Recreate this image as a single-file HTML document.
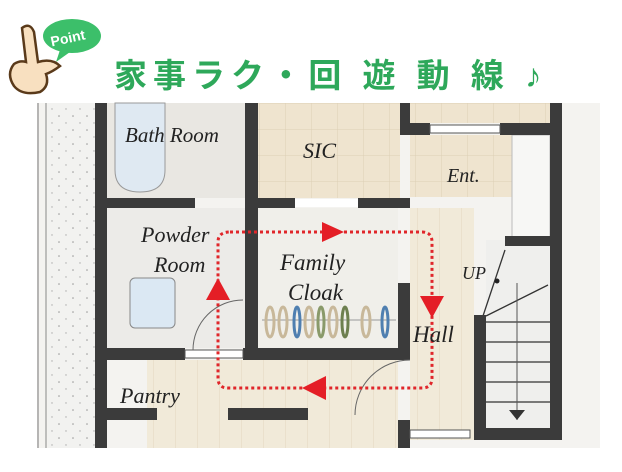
<!DOCTYPE html>
<html><head><meta charset="utf-8"><style>
body{margin:0;width:622px;height:472px;background:#fff;overflow:hidden;position:relative}
svg{position:absolute;left:0;top:0}
.l{font-family:"Liberation Serif",serif;font-style:italic;fill:#222}
</style></head><body>
<svg width="622" height="472" viewBox="0 0 622 472">
<defs>
<pattern id="tile" width="26" height="26" patternUnits="userSpaceOnUse"><rect width="26" height="26" fill="#efe4cf"/><path d="M26 0V26H0" stroke="#dccfb6" stroke-width="1" fill="none"/></pattern>
<pattern id="fl" width="22" height="40" patternUnits="userSpaceOnUse"><rect width="22" height="40" fill="#f1ead9"/><path d="M22 0V40" stroke="#e2d7c0" fill="none"/></pattern>
<pattern id="dots" width="14" height="14" patternUnits="userSpaceOnUse"><rect width="14" height="14" fill="#f2f2f0"/><circle cx="3" cy="4" r=".8" fill="#999"/><circle cx="10" cy="11" r=".7" fill="#aaa"/></pattern>
</defs>
<!-- header -->
<text x="114" y="87" font-family="'Liberation Sans','Noto Sans CJK JP',sans-serif" font-size="33" font-weight="bold" fill="#2ea85a" letter-spacing="6">家事ラク・回 遊 動 線 ♪</text>
<ellipse cx="72" cy="36" rx="29" ry="17" fill="#3cbf6a"/>
<path d="M60 50 L56 62 L70 52Z" fill="#3cbf6a"/>
<text x="50" y="42" font-family="'Liberation Sans',sans-serif" font-size="14" font-weight="bold" fill="#fff" transform="rotate(-12 72 36)">Point</text>
<path d="M22 28 Q30 22 34 32 L38 62 Q52 58 60 66 Q52 72 46 74 Q50 86 40 92 Q22 96 14 86 Q6 74 14 64 Q20 60 26 62 Z" fill="#f8e0c0" stroke="#5a3a1a" stroke-width="2.5"/>
<!-- plan -->
<rect x="37" y="103" width="563" height="345" fill="#f4f3f0"/>
<rect x="48" y="103" width="47" height="345" fill="url(#dots)"/>
<line x1="38" y1="103" x2="38" y2="448" stroke="#777"/><line x1="46" y1="103" x2="46" y2="448" stroke="#888"/>
<rect x="107" y="103" width="138" height="95" fill="#e9e7e2"/>
<path d="M115 103 V170 Q115 192 140 192 Q165 192 165 170 V103Z" fill="#dfe9f2" stroke="#999"/>
<rect x="258" y="103" width="142" height="95" fill="url(#tile)"/>
<rect x="410" y="135" width="102" height="62" fill="url(#tile)"/>
<rect x="410" y="103" width="140" height="20" fill="url(#tile)"/>
<rect x="512" y="135" width="38" height="105" fill="#f7f7f5" stroke="#bbb"/>
<rect x="107" y="208" width="138" height="140" fill="#ecebe8"/>
<rect x="130" y="278" width="45" height="50" rx="5" fill="#dbe8f3" stroke="#888"/>
<rect x="258" y="208" width="140" height="140" fill="#f0efea"/>
<rect x="410" y="208" width="64" height="232" fill="url(#fl)"/>
<rect x="107" y="360" width="291" height="88" fill="url(#fl)"/>
<rect x="107" y="360" width="40" height="88" fill="#f4f3f0"/>
<!-- stairs -->
<rect x="486" y="240" width="64" height="190" fill="#efefed"/>
<g stroke="#333" stroke-width="1.3"><line x1="486" y1="322" x2="550" y2="322"/><line x1="486" y1="342" x2="550" y2="342"/><line x1="486" y1="362" x2="550" y2="362"/><line x1="486" y1="382" x2="550" y2="382"/><line x1="486" y1="402" x2="550" y2="402"/><line x1="486" y1="316" x2="548" y2="285"/><line x1="483" y1="316" x2="505" y2="250"/></g>
<line x1="517" y1="283" x2="517" y2="420" stroke="#555"/>
<path d="M509 410h16l-8 10z" fill="#333"/>
<circle cx="497" cy="281" r="2.5" fill="#222"/>
<!-- hangers -->
<line x1="262" y1="320" x2="396" y2="320" stroke="#999"/>
<g stroke-width="3" fill="none">
<ellipse cx="270" cy="322" rx="4" ry="15" stroke="#c8b89a"/><ellipse cx="283" cy="322" rx="4" ry="15" stroke="#c8b89a"/><ellipse cx="297" cy="322" rx="3" ry="15" stroke="#4f7fb0"/><ellipse cx="309" cy="322" rx="4" ry="15" stroke="#c8b89a"/><ellipse cx="321" cy="322" rx="3" ry="15" stroke="#8a9a6a"/><ellipse cx="333" cy="322" rx="4" ry="15" stroke="#c8b89a"/><ellipse cx="345" cy="322" rx="3" ry="15" stroke="#6d7f4f"/><ellipse cx="366" cy="322" rx="4" ry="15" stroke="#c8b89a"/><ellipse cx="385" cy="322" rx="3" ry="15" stroke="#4f7fb0"/></g>
<!-- walls -->
<g fill="#3b3b3b">
<rect x="95" y="103" width="12" height="345"/>
<rect x="245" y="103" width="13" height="257"/>
<rect x="95" y="198" width="100" height="10"/>
<rect x="245" y="198" width="50" height="10"/>
<rect x="358" y="198" width="52" height="10"/>
<rect x="400" y="103" width="10" height="32"/>
<rect x="400" y="123" width="30" height="12"/><rect x="500" y="123" width="50" height="12"/>
<rect x="550" y="103" width="12" height="337"/>
<rect x="505" y="236" width="45" height="10"/>
<rect x="474" y="315" width="12" height="125"/>
<rect x="474" y="428" width="88" height="12"/>
<rect x="95" y="348" width="90" height="12"/><rect x="243" y="348" width="167" height="12"/>
<rect x="398" y="283" width="12" height="77"/>
<rect x="398" y="420" width="12" height="28"/>
<rect x="107" y="408" width="50" height="12"/><rect x="228" y="408" width="80" height="12"/>
</g>
<rect x="430" y="125" width="70" height="8" fill="#fff" stroke="#555"/>
<rect x="295" y="199" width="63" height="8" fill="#fff"/>
<rect x="410" y="430" width="60" height="8" fill="#fff" stroke="#555"/>
<rect x="185" y="350" width="58" height="8" fill="#fff" stroke="#555"/>
<path d="M410 360 A55 55 0 0 0 355 415" fill="none" stroke="#666"/>
<path d="M243 300 A50 50 0 0 0 193 350" fill="none" stroke="#666"/>
<!-- red loop -->
<path d="M230 232 H422 Q432 232 432 242 V378 Q432 388 422 388 H228 Q218 388 218 378 V242 Q218 232 230 232Z" fill="none" stroke="#e0262a" stroke-width="3" stroke-dasharray="3 3"/>
<path d="M322 222 L344 232 L322 242Z" fill="#e41e26"/>
<path d="M420 296 L444 296 L432 318Z" fill="#e41e26"/>
<path d="M326 376 L302 388 L326 400Z" fill="#e41e26"/>
<path d="M206 300 L230 300 L218 278Z" fill="#e41e26"/>
<!-- labels -->
<text class="l" x="125" y="142" font-size="21">Bath Room</text>
<text class="l" x="303" y="158" font-size="22">SIC</text>
<text class="l" x="447" y="182" font-size="20">Ent.</text>
<text class="l" x="141" y="242" font-size="22">Powder</text>
<text class="l" x="154" y="272" font-size="22">Room</text>
<text class="l" x="280" y="270" font-size="23">Family</text>
<text class="l" x="288" y="300" font-size="23">Cloak</text>
<text class="l" x="413" y="342" font-size="23">Hall</text>
<text class="l" x="462" y="279" font-size="18">UP</text>
<text class="l" x="120" y="403" font-size="22">Pantry</text>
</svg>
</body></html>
